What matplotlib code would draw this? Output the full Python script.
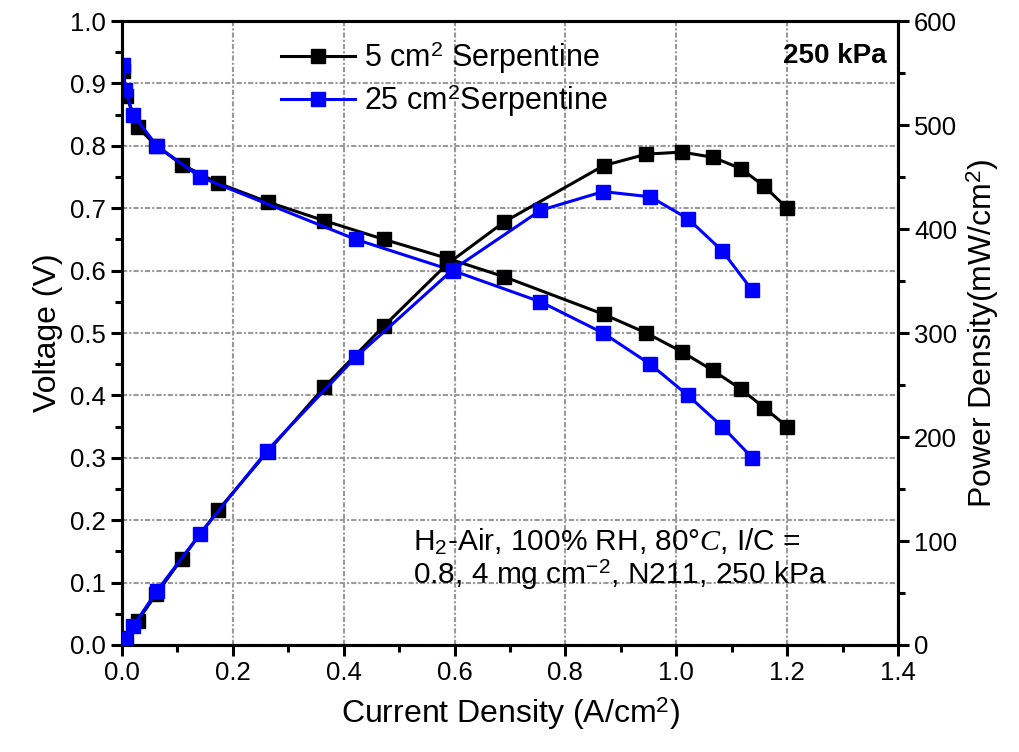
import matplotlib
matplotlib.use("Agg")
import matplotlib.pyplot as plt
from matplotlib.ticker import MultipleLocator

plt.rcParams['font.family'] = ['Liberation Sans', 'DejaVu Sans']
plt.rcParams['mathtext.fontset'] = 'custom'
plt.rcParams['mathtext.rm'] = 'Liberation Sans'
plt.rcParams['mathtext.it'] = 'Liberation Serif:italic'
plt.rcParams['mathtext.bf'] = 'Liberation Sans:bold'

# 5 cm2 serpentine
i5 = [0.002, 0.008, 0.028, 0.062, 0.108, 0.174, 0.263, 0.365, 0.473, 0.586,
      0.690, 0.869, 0.946, 1.010, 1.066, 1.117, 1.159, 1.200]
v5 = [0.92, 0.88, 0.83, 0.80, 0.77, 0.74, 0.71, 0.68, 0.65, 0.62,
      0.59, 0.53, 0.50, 0.47, 0.44, 0.41, 0.38, 0.35]
p5 = [2, 7, 23, 49, 83, 130, 186, 248, 307, 366,
      407, 461, 472, 474, 469, 458, 441, 420]

# 25 cm2 serpentine
i25_v = [0.002, 0.006, 0.020, 0.063, 0.141, 0.422, 0.597, 0.755, 0.868,
         0.953, 1.021, 1.083, 1.137]
v25 = [0.93, 0.89, 0.85, 0.80, 0.75, 0.65, 0.60, 0.55, 0.50,
       0.45, 0.40, 0.35, 0.30]
i25_p = [0.002, 0.006, 0.020, 0.063, 0.141, 0.262, 0.422, 0.597, 0.755,
         0.868, 0.953, 1.021, 1.083, 1.137]
p25 = [2, 6, 18, 52, 107, 187, 277, 361, 418, 436, 431, 410, 379, 341]

labels = ['5 cm$^2$ Serpentine', '25 cm$^2$Serpentine']
colors = ['black', '#0000FF']

fig = plt.figure(figsize=(10.2, 7.52), dpi=100)
ax = fig.add_axes([0.1196, 0.1423, 0.7608, 0.8297])
ax2 = ax.twinx()

lw = 2.2
ms = 10
ax.plot(i5, v5, '-s', color=colors[0], lw=lw, ms=ms, label=labels[0], zorder=3)
ax.plot(i25_v, v25, '-s', color=colors[1], lw=lw, ms=ms, label=labels[1], zorder=4)
ax2.plot(i5, p5, '-s', color=colors[0], lw=lw, ms=ms, zorder=3)
ax2.plot(i25_p, p25, '-s', color=colors[1], lw=lw, ms=ms, zorder=4)

ax.set_xlim(0, 1.4)
ax.set_ylim(0, 1.0)
ax2.set_ylim(0, 600)

ax.xaxis.set_major_locator(MultipleLocator(0.2))
ax.xaxis.set_minor_locator(MultipleLocator(0.1))
ax.yaxis.set_major_locator(MultipleLocator(0.1))
ax.yaxis.set_minor_locator(MultipleLocator(0.05))
ax2.yaxis.set_major_locator(MultipleLocator(100))
ax2.yaxis.set_minor_locator(MultipleLocator(50))
ax.xaxis.set_major_formatter(matplotlib.ticker.FormatStrFormatter('%.1f'))
ax.yaxis.set_major_formatter(matplotlib.ticker.FormatStrFormatter('%.1f'))

grid_ls = (0, (2.5, 1, 1, 1))
ax.grid(True, which='major', color='#999999', linestyle=grid_ls, linewidth=1.5)
ax.set_axisbelow(True)

for a in (ax, ax2):
    for s in a.spines.values():
        s.set_linewidth(2.2)
    a.tick_params(which='major', direction='out', length=8, width=2.2, labelsize=18.5)
    a.tick_params(which='minor', direction='out', length=5, width=2.2)

ax.set_xlabel('Current Density (A/cm$^2$)', fontsize=23, labelpad=7)
ax.set_ylabel('Voltage (V)', fontsize=23, labelpad=5)
ax2.set_ylabel('Power Density(mW/cm$^2$)', fontsize=23, labelpad=5)

leg = ax.legend(loc='upper left', bbox_to_anchor=(0.17, 1.015), frameon=False,
                fontsize=22, handlelength=2.4, handletextpad=0.3,
                labelspacing=0.2)

ax.text(0.985, 0.965, '250 kPa', transform=ax.transAxes, ha='right', va='top',
        fontsize=20, fontweight='bold')
ax.text(0.375, 0.19,
        'H$_2$-Air, 100% RH, 80°$\\mathit{C}$, I/C =\n0.8, 4 mg cm$^{-2}$, N211, 250 kPa',
        transform=ax.transAxes, ha='left', va='top', fontsize=21.5, linespacing=1.05)

fig.savefig('out.png', dpi=100)
